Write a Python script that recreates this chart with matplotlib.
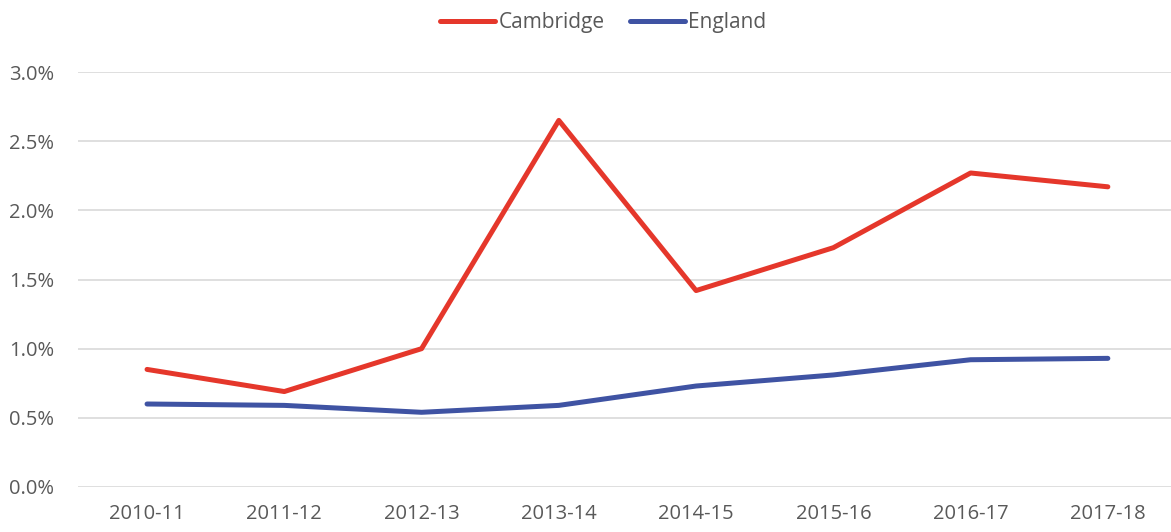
import matplotlib
matplotlib.use("Agg")
import matplotlib.pyplot as plt
from matplotlib.ticker import PercentFormatter

years = ["2010-11", "2011-12", "2012-13", "2013-14", "2014-15", "2015-16", "2016-17", "2017-18"]
cambridge = [0.85, 0.69, 1.00, 2.65, 1.42, 1.73, 2.27, 2.17]
england = [0.60, 0.59, 0.54, 0.59, 0.73, 0.81, 0.92, 0.93]

plt.rcParams['font.family'] = ['Open Sans', 'DejaVu Sans']
fig = plt.figure(figsize=(11.71, 5.32), dpi=100)
ax = fig.add_axes([78/1171, 1-487/532, (1171-78)/1171, (487-72)/532])

x = range(len(years))
ax.plot(x, cambridge, color="#E5372B", lw=3.6, label="Cambridge", solid_capstyle="round")
ax.plot(x, england, color="#3F53A3", lw=3.6, label="England", solid_capstyle="round")

ax.set_ylim(0, 3.0)
ax.set_yticks([0, 0.5, 1.0, 1.5, 2.0, 2.5, 3.0])
ax.yaxis.set_major_formatter(PercentFormatter(100, decimals=1))
ax.set_xlim(-0.503, 7.46)
ax.set_xticks(list(x))
ax.set_xticklabels(years)
ax.grid(axis='y', color="#D9D9D9", lw=1.2)
ax.set_axisbelow(True)
for s in ax.spines.values():
    s.set_visible(False)
ax.tick_params(length=0, labelsize=14.5, labelcolor="#595959")
ax.tick_params(axis='y', pad=17)
ax.tick_params(axis='x', pad=12)

leg = fig.legend(loc="upper center", bbox_to_anchor=(0.515, 1.012), ncol=2, frameon=False,
                 fontsize=15, handlelength=2.65, handletextpad=0.15, columnspacing=1.2)
for t in leg.get_texts():
    t.set_color("#595959")

fig.savefig("out.png", dpi=100)
